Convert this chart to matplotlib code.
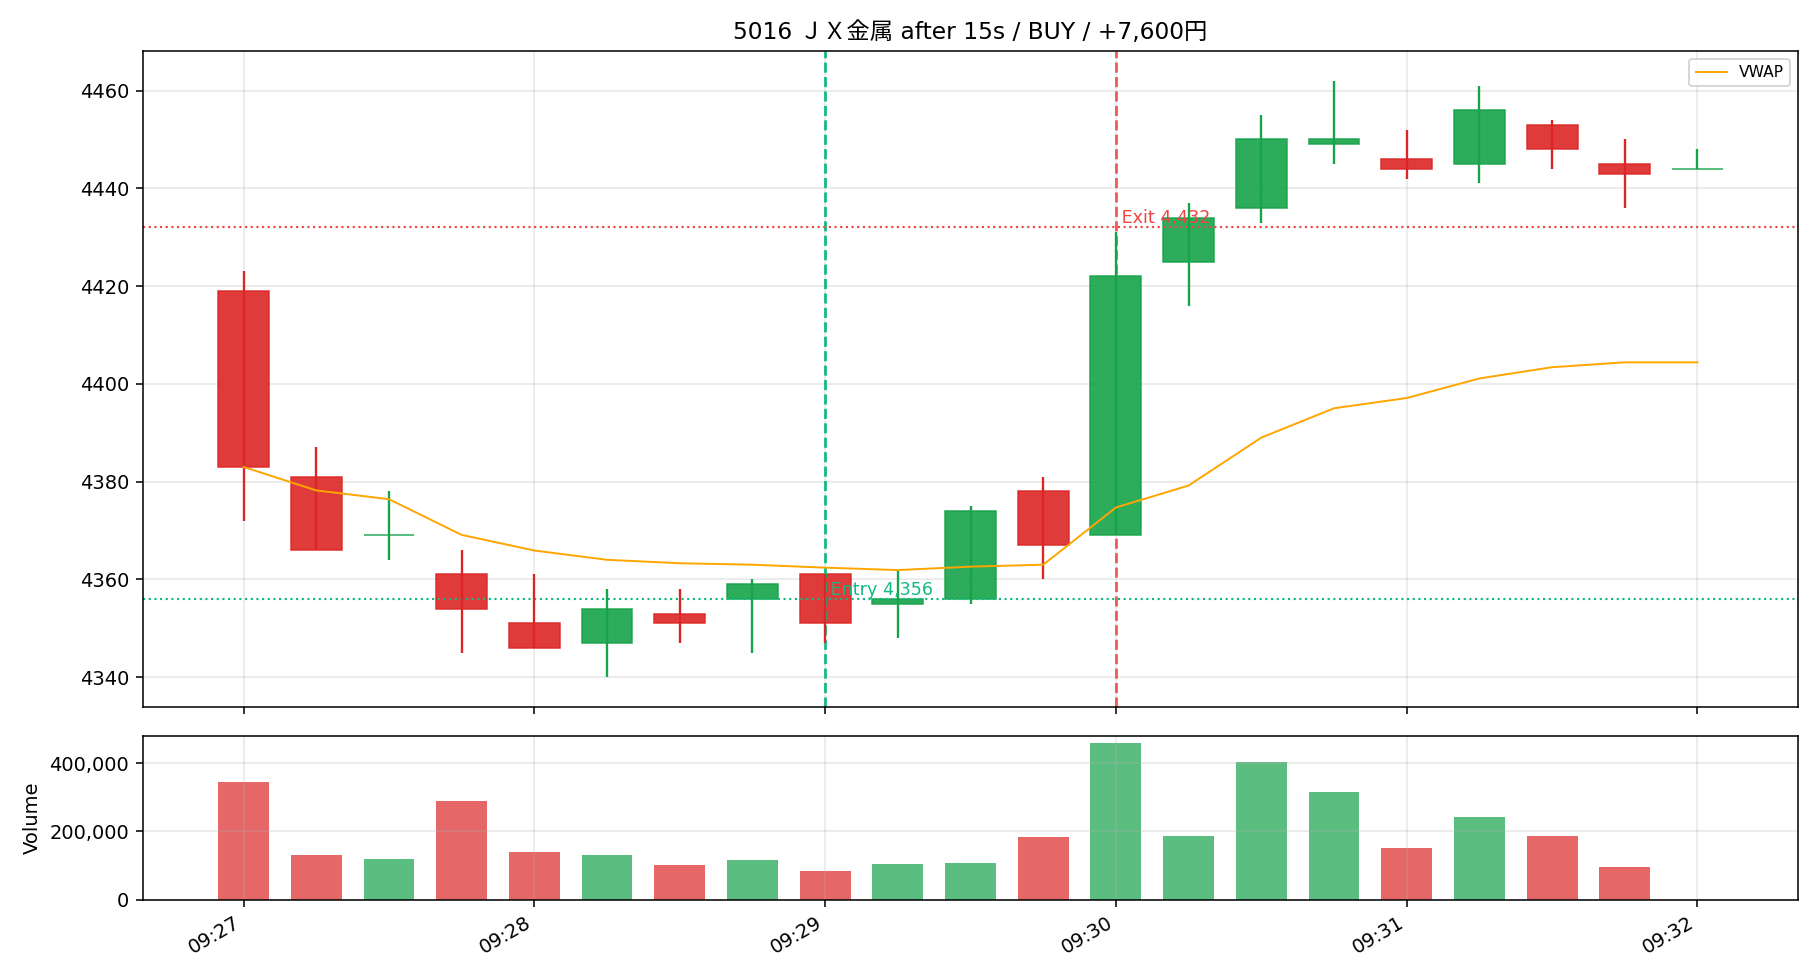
import pandas as pd
import matplotlib
matplotlib.use('Agg')
import matplotlib.pyplot as plt
import matplotlib.dates as mdates
from matplotlib.ticker import FuncFormatter, MultipleLocator

# 15-second candles, 09:27:00 - 09:32:00
times = pd.date_range('2025-06-02 09:27:00', periods=21, freq='15s')
opens = [4419, 4381, 4369, 4361, 4351, 4347, 4353, 4356, 4361, 4355, 4356,
         4378, 4369, 4425, 4436, 4449, 4446, 4445, 4453, 4445, 4444]
highs = [4423, 4387, 4378, 4366, 4361, 4358, 4358, 4360, 4361, 4362, 4375,
         4381, 4431, 4437, 4455, 4462, 4452, 4461, 4454, 4450, 4448]
lows = [4372, 4366, 4364, 4345, 4346, 4340, 4347, 4345, 4347, 4348, 4355,
        4360, 4369, 4416, 4433, 4445, 4442, 4441, 4444, 4436, 4444]
closes = [4383, 4366, 4369, 4354, 4346, 4354, 4351, 4359, 4351, 4356, 4374,
          4367, 4422, 4434, 4450, 4450, 4444, 4456, 4448, 4443, 4444]
volumes = [346000, 131500, 119700, 290000, 140400, 131500, 102000, 117000,
           84400, 105000, 108000, 184400, 458000, 187400, 405000, 317000,
           152000, 243000, 187000, 96400, 0]
vwap = [4383.0, 4378.2, 4376.4, 4369.1, 4365.9, 4364.0, 4363.3, 4363.0,
        4362.4, 4361.9, 4362.6, 4363.0, 4374.7, 4379.2, 4389.0, 4395.0,
        4397.1, 4401.1, 4403.4, 4404.4, 4404.4]

entry_time = pd.Timestamp('2025-06-02 09:29:00')
exit_time = pd.Timestamp('2025-06-02 09:30:00')
entry_price = 4356
exit_price = 4432
title = '5016 ＪＸ金属 after 15s / BUY / +7,600円'

UP = '#16a34a'
DOWN = '#dc2626'
ENTRY_C = '#10b981'
EXIT_C = '#ef4444'

fig = plt.figure(figsize=(13, 7), dpi=140)
gs = fig.add_gridspec(2, 1, height_ratios=[4, 1], hspace=0.07,
                      left=0.0785, right=0.988, top=0.948, bottom=0.082)
ax = fig.add_subplot(gs[0])
axv = fig.add_subplot(gs[1], sharex=ax)

x = mdates.date2num(times)
width = 0.7 * 15 / 86400
colors = [UP if c >= o else DOWN for o, c in zip(opens, closes)]

# ローソク足
for xi, o, h, l, c, col in zip(x, opens, highs, lows, closes, colors):
    ax.bar(xi, abs(c - o), bottom=min(o, c), width=width, color=col,
           alpha=0.9, edgecolor=col, linewidth=0.8, zorder=2)
    ax.vlines(xi, l, h, color=col, linewidth=1.2, zorder=3)

ax.plot(x, vwap, color='orange', linewidth=1.0, label='VWAP', zorder=4)

ax.axvline(entry_time, color=ENTRY_C, linestyle='--', linewidth=1.4)
ax.axvline(exit_time, color=EXIT_C, linestyle='--', linewidth=1.4, alpha=0.9)
ax.axhline(entry_price, color=ENTRY_C, linestyle=':', linewidth=1.1)
ax.axhline(exit_price, color=EXIT_C, linestyle=':', linewidth=1.1)
ax.text(entry_time, entry_price, f' Entry {entry_price:,}', color=ENTRY_C,
        fontsize=9, va='bottom', ha='left')
ax.text(exit_time, exit_price, f' Exit {exit_price:,}', color=EXIT_C,
        fontsize=9, va='bottom', ha='left')

ax.set_title(title, fontsize=12, family=['DejaVu Sans', 'Noto Sans CJK JP'])
ax.legend(loc='upper right', fontsize=8)
ax.grid(True, alpha=0.3)
ax.tick_params(labelbottom=False)

# 出来高
axv.bar(x, volumes, width=width, color=colors, alpha=0.7)
axv.set_ylabel('Volume')
axv.yaxis.set_major_locator(MultipleLocator(200000))
axv.yaxis.set_major_formatter(FuncFormatter(lambda v, p: f'{int(v):,}'))
axv.grid(True, alpha=0.3)

axv.xaxis.set_major_locator(mdates.MinuteLocator())
axv.xaxis.set_major_formatter(mdates.DateFormatter('%H:%M'))
plt.setp(axv.get_xticklabels(), rotation=30, ha='right')

fig.savefig('out.png', dpi=140)
